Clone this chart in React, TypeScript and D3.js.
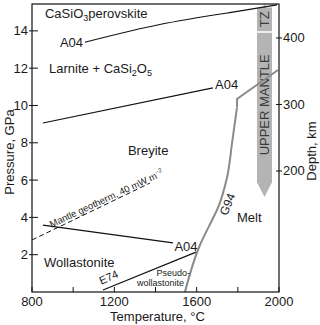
import React from 'react';
import * as d3 from 'd3';

// axis ticks
const tempTicks = [800, 1000, 1200, 1400, 1600, 1800, 2000];
const tempLabels = [800, 1200, 1600, 2000];
const pressTicks = [2, 4, 6, 8, 10, 12, 14];
const depthTicks = [200, 300, 400];

// phase boundaries, [T °C, P GPa]
const upperA04 = [[1057, 13.39], [1421, 14.34], [1761, 14.98], [1990, 15.39]];
const middleA04 = [[853, 9.06], [1679, 10.94]];
const lowerA04 = [[853, 3.59], [1485, 2.63]];
const e74 = [[1145, 0.11], [1597, 2.14]];
const geotherm = [[800, 2.79], [1373, 5.84]];
const g94Curve = [[1543, 0], [1616, 2.52], [1675, 3.86], [1699, 4.4], [1748, 6.17], [1772, 7.99], [1796, 9.9]];
const g94Kink = [[1796, 9.9], [1796, 10.35], [1995, 11.9]];

// mantle zones (depth km) and the temperature band the arrow sits in
const arrowT = [1893, 1966];
const tzDepth = [410, 446, 451];
const umDepth = [183, 408];
const umTip = 161;

const depthToP = (d: number) => (d - 18) / 28.05;

const font = '"Liberation Sans", Arial, sans-serif';

export default function App() {
    const x = d3.scaleLinear().domain([800, 2000]).range([32, 279]);
    const y = d3.scaleLinear().domain([0, 15.44]).range([292, 4]);
    const yd = (d: number) => y(depthToP(d));

    const line = d3.line<number[]>().x((d) => x(d[0])).y((d) => y(d[1]));
    const smooth = d3.line<number[]>().x((d) => x(d[0])).y((d) => y(d[1])).curve(d3.curveNatural);
    const curve = d3.line<number[]>().x((d) => x(d[0])).y((d) => y(d[1])).curve(d3.curveMonotoneY);

    const [x0, x1] = x.range();
    const [yb, yt] = y.range();
    const ax0 = x(arrowT[0]);
    const ax1 = x(arrowT[1]);
    const axm = (ax0 + ax1) / 2;

    const umPath = `M${ax0},${yd(umDepth[1])}L${ax1},${yd(umDepth[1])}L${ax1},${yd(umDepth[0])}L${axm},${yd(umTip)}L${ax0},${yd(umDepth[0])}Z`;
    const tzPath = `M${ax0},${yd(tzDepth[0])}L${ax1},${yd(tzDepth[0])}L${ax1},${yd(tzDepth[1])}L${axm + 2},${yd(tzDepth[1])}L${axm},${yd(tzDepth[2])}L${axm - 2},${yd(tzDepth[1])}L${ax0},${yd(tzDepth[1])}Z`;

    const label = (t: number, p: number) => ({ x: x(t), y: y(p) });
    const gt = label(895, 3.45);
    const e = label(1180, 0.6);
    const g = label(1768, 4.62);

    return (
        <svg width={320} height={325} style={{ position: 'absolute', left: 0, top: 0 }}
            fontFamily={font} fontSize={13} fill="#1a1a1a">
            <rect width={320} height={325} fill="#fff" />

            {/* grey mantle arrow */}
            <path d={umPath} fill="#b4b4b4" />
            <path d={tzPath} fill="#b4b4b4" />
            <text transform={`translate(${axm + 5},${(yd(umDepth[1]) + yd(185)) / 2 - 2}) rotate(-90)`}
                textAnchor="middle" fill="#3a3a3a">UPPER MANTLE</text>
            <text transform={`translate(${axm + 5},${(yd(tzDepth[0]) + yd(tzDepth[1])) / 2}) rotate(-90)`}
                textAnchor="middle" fill="#3a3a3a">TZ</text>

            {/* boundaries */}
            <g fill="none" stroke="#111" strokeWidth={1.2}>
                <path d={smooth(upperA04) || ''} />
                <path d={line(middleA04) || ''} />
                <path d={line(lowerA04) || ''} />
                <path d={line(e74) || ''} />
                <path d={line(geotherm) || ''} strokeDasharray="5,3" strokeWidth={1} />
            </g>
            <g fill="none" stroke="#8a8a8a" strokeWidth={2}>
                <path d={curve(g94Curve) || ''} />
                <path d={line(g94Kink) || ''} />
            </g>

            {/* frame */}
            <rect x={x0} y={yt} width={x1 - x0} height={yb - yt} fill="none" stroke="#111" strokeWidth={1.2} />

            {/* bottom axis */}
            {tempTicks.map((t) => (
                <line key={t} x1={x(t)} x2={x(t)} y1={yb} y2={yb - 5} stroke="#111" />
            ))}
            {tempLabels.map((t) => (
                <text key={t} x={x(t)} y={yb + 14} textAnchor="middle">{t}</text>
            ))}
            <text x={(x0 + x1) / 2 + 2} y={yb + 29} textAnchor="middle">Temperature, °C</text>

            {/* left axis */}
            {pressTicks.map((p) => (
                <g key={p}>
                    <line x1={x0 - 3} x2={x0 + 6} y1={y(p)} y2={y(p)} stroke="#111" />
                    <text x={x0 - 4} y={y(p) + 4.5} textAnchor="end">{p}</text>
                </g>
            ))}
            <text transform={`translate(14,${(yb + yt) / 2 + 4}) rotate(-90)`} textAnchor="middle">Pressure, GPa</text>

            {/* right axis */}
            {depthTicks.map((d) => (
                <g key={d}>
                    <line x1={x1 - 3} x2={x1 + 3} y1={yd(d)} y2={yd(d)} stroke="#111" />
                    <text x={x1 + 4} y={yd(d) + 4.5}>{d}</text>
                </g>
            ))}
            <text transform={`translate(316,${yd(230)}) rotate(-90)`} textAnchor="middle">Depth, km</text>

            {/* field labels */}
            <text {...label(863, 14.69)}>CaSiO<tspan dy={3} fontSize={9}>3</tspan><tspan dy={-3}>perovskite</tspan></text>
            <text {...label(883, 11.74)}>Larnite + CaSi<tspan dy={3} fontSize={9}>2</tspan><tspan dy={-3}>O</tspan><tspan dy={3} fontSize={9}>5</tspan></text>
            <text {...label(1266, 7.35)}>Breyite</text>
            <text {...label(858, 1.34)}>Wollastonite</text>
            <text {...label(1796, 3.75)}>Melt</text>
            <text {...label(1048, 13.14)} textAnchor="end">A04</text>
            <text {...label(1689, 10.88)}>A04</text>
            <text {...label(1492, 2.2)}>A04</text>
            <text transform={`translate(${e.x},${e.y}) rotate(-24)`} fontSize={11} textAnchor="middle">E74</text>
            <text {...label(1568, 0.86)} fontSize={9} textAnchor="end">Pseudo-</text>
            <text {...label(1539, 0.32)} fontSize={9} textAnchor="end">wollastonite</text>
            <text transform={`translate(${g.x},${g.y}) rotate(-68)`} fontSize={12} textAnchor="middle">G94</text>
            <text transform={`translate(${gt.x},${gt.y}) rotate(-25)`} fontSize={9.5}>
                Mantle geotherm, 40 mW m<tspan dy={-4} fontSize={6}>−2</tspan>
            </text>
        </svg>
    );
}
